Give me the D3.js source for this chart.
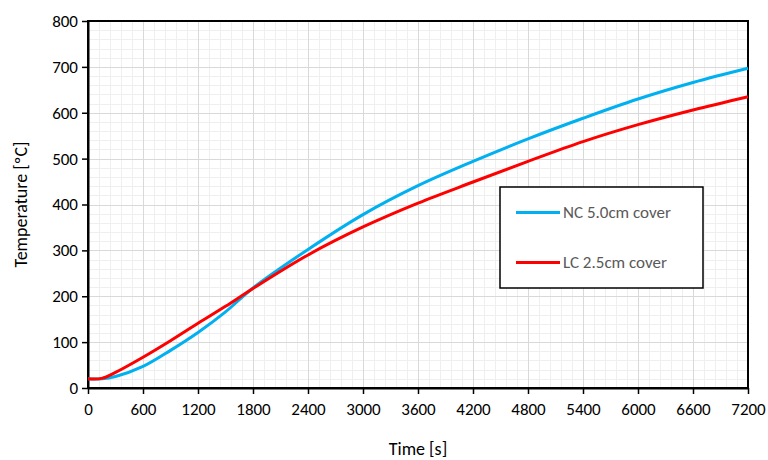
<!DOCTYPE html>
<html>
<head>
<meta charset="utf-8">
<script src="https://cdn.jsdelivr.net/npm/d3@7"></script>
<style>
  body { margin: 0; background: #fff; }
  text { font-family: Carlito, Calibri, Lato, sans-serif; }
</style>
</head>
<body>
<div id="chart"></div>
<script>
var svgWidth = 768;
var svgHeight = 460;

var margin = { top: 21, right: 20, bottom: 72, left: 88 };
var width = 748 - margin.left;
var height = 388 - margin.top;

// data
var times = [0, 150, 300, 600, 900, 1200, 1500, 1800, 2400, 3000, 3600, 4200, 4800, 5400, 6000, 6600, 7200];
var ncTemps = [20, 20, 25, 47, 82, 121, 166, 218, 302, 378, 441, 494, 543, 588, 630, 666, 697];
var lcTemps = [20, 21, 34, 67, 103, 141, 178, 217, 290, 351, 403, 449, 494, 537, 574, 606, 635];
var xTicks = d3.range(0, 7201, 600);
var yTicks = d3.range(0, 801, 100);
var seriesNames = ["NC 5.0cm cover", "LC 2.5cm cover"];
var seriesColors = ["#00b0f0", "#ff0000"];

var svg = d3.select("#chart")
    .append("svg")
    .attr("width", svgWidth)
    .attr("height", svgHeight);

var chartGroup = svg.append("g")
    .attr("transform", `translate(${margin.left}, ${margin.top})`);

var xScale = d3.scaleLinear().domain([0, 7200]).range([0, width]);
var yScale = d3.scaleLinear().domain([0, 800]).range([height, 0]);

// minor grid
chartGroup.append("g")
    .selectAll("line")
    .data(d3.range(0, 7201, 120))
    .enter().append("line")
    .attr("x1", d => Math.round(xScale(d)) + 0.5)
    .attr("x2", d => Math.round(xScale(d)) + 0.5)
    .attr("y1", 0).attr("y2", height)
    .attr("stroke", "#efefef");
chartGroup.append("g")
    .selectAll("line")
    .data(d3.range(0, 801, 20))
    .enter().append("line")
    .attr("y1", d => Math.round(yScale(d)) + 0.5)
    .attr("y2", d => Math.round(yScale(d)) + 0.5)
    .attr("x1", 0).attr("x2", width)
    .attr("stroke", "#efefef");

// major grid
chartGroup.append("g")
    .selectAll("line")
    .data(xTicks)
    .enter().append("line")
    .attr("x1", d => Math.round(xScale(d)) + 0.5)
    .attr("x2", d => Math.round(xScale(d)) + 0.5)
    .attr("y1", 0).attr("y2", height)
    .attr("stroke", "#d9d9d9");
chartGroup.append("g")
    .selectAll("line")
    .data(yTicks)
    .enter().append("line")
    .attr("y1", d => Math.round(yScale(d)) + 0.5)
    .attr("y2", d => Math.round(yScale(d)) + 0.5)
    .attr("x1", 0).attr("x2", width)
    .attr("stroke", "#d9d9d9");

// border
chartGroup.append("rect")
    .attr("x", 0).attr("y", 0)
    .attr("width", width).attr("height", height)
    .attr("fill", "none")
    .attr("stroke", "#000")
    .attr("stroke-width", 2);

// axes
var bottomAxis = d3.axisBottom(xScale).tickValues(xTicks).tickFormat(d3.format("d")).tickSize(6).tickSizeOuter(0);
var leftAxis = d3.axisLeft(yScale).tickValues(yTicks).tickFormat(d3.format("d")).tickSize(6).tickSizeOuter(0);

var xAxis = chartGroup.append("g")
    .attr("transform", `translate(0,${height})`)
    .call(bottomAxis);
var yAxis = chartGroup.append("g")
    .call(leftAxis);

[xAxis, yAxis].forEach(function(ax) {
    ax.select(".domain").attr("stroke", "#000").attr("stroke-width", 2);
    ax.selectAll(".tick line").attr("stroke", "#000").attr("stroke-width", 1.5);
    ax.selectAll(".tick text")
        .attr("fill", "#000")
        .style("font-size", "17px")
        .style("font-family", "Carlito, Calibri, Lato, sans-serif");
});
xAxis.selectAll(".tick text").attr("dy", "1.05em");
yAxis.selectAll(".tick text").attr("x", -10);

// lines
var lineGen = d3.line()
    .x(d => xScale(d[0]))
    .y(d => yScale(d[1]))
    .curve(d3.curveCatmullRom.alpha(0.5));

[ncTemps, lcTemps].forEach(function(vals, i) {
    chartGroup.append("path")
        .datum(times.map((t, j) => [t, vals[j]]))
        .attr("d", lineGen)
        .attr("fill", "none")
        .attr("stroke", seriesColors[i])
        .attr("stroke-width", 3)
        .attr("stroke-linejoin", "round");
});

// axis titles
svg.append("text")
    .attr("x", margin.left + width / 2)
    .attr("y", 455)
    .attr("text-anchor", "middle")
    .style("font-size", "18px")
    .attr("fill", "#000")
    .text("Time [s]");

svg.append("text")
    .attr("transform", `translate(27, ${margin.top + height / 2}) rotate(-90)`)
    .attr("text-anchor", "middle")
    .style("font-size", "18px")
    .attr("fill", "#000")
    .text("Temperature [ºC]");

// legend
var legend = svg.append("g").attr("transform", "translate(500, 187)");
legend.append("rect")
    .attr("x", 0).attr("y", 0)
    .attr("width", 203).attr("height", 101)
    .attr("fill", "#fff")
    .attr("stroke", "#000")
    .attr("stroke-width", 1.5);

seriesNames.forEach(function(name, i) {
    var ly = 25.5 + i * 50;
    legend.append("line")
        .attr("x1", 16).attr("x2", 60)
        .attr("y1", ly).attr("y2", ly)
        .attr("stroke", seriesColors[i])
        .attr("stroke-width", 3);
    legend.append("text")
        .attr("x", 63).attr("y", ly)
        .attr("dy", "0.35em")
        .style("font-size", "17px")
        .attr("fill", "#595959")
        .text(name);
});
</script>
</body>
</html>
